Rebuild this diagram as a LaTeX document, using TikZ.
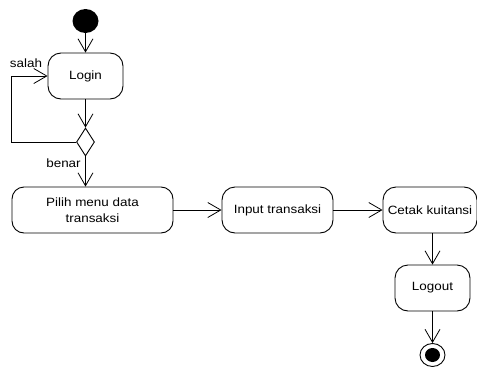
\documentclass[tikz,border=0pt]{standalone}
\usepackage{fontspec}
\setmainfont{Liberation Sans}[FakeStretch=1.12]
\usetikzlibrary{shapes.geometric,arrows.meta}

\tikzset{
  act/.style={draw, rounded corners=13pt, line width=0.9pt, align=center,
    inner sep=0pt, minimum height=46pt},
  flow/.style={draw, line width=0.8pt, -{Straight Barb[length=13pt,width=15pt,line width=0.8pt]}},
}

\begin{document}
\begin{tikzpicture}[x=1pt,y=-1pt,font=\fontsize{12}{15.5}\selectfont]
        \useasboundingbox (0,0) rectangle (477,367);

        \node[ellipse, fill=black, minimum width=26pt, minimum height=24pt, inner sep=0pt] (start) at (85.5,21) {};

        \begin{scope}[every node/.style={act}]
          \node[minimum width=75pt] (login)  at (85.5,76)  {Login};
          \node[minimum width=161pt, rounded corners=12pt] (pilih) at (92.5,210) {Pilih menu data\\transaksi};
          \node[minimum width=111pt] (input)  at (277.5,210) {Input transaksi};
          \node[minimum width=94pt]  (cetak)  at (430,210) {Cetak kuitansi};
          \node[minimum width=75pt]  (logout) at (432.5,288) {Logout};
        \end{scope}

        \node[diamond, draw, line width=0.9pt, minimum width=18pt, minimum height=28pt, inner sep=0pt] (dec) at (85.5,142) {};

        \node[ellipse, draw, line width=0.9pt, minimum width=25pt, minimum height=23pt, inner sep=0pt] (end) at (432.5,355) {};
        \node[ellipse, fill=black, minimum width=15pt, minimum height=14pt, inner sep=0pt] (endin) at (end) {};

        \node[inner sep=0pt] (salah) at (26,63.5) {salah};
        \node[inner sep=0pt] (benar) at (63.5,163.5) {benar};

        \begin{scope}[every edge/.style={flow}]
          \path (start)  edge (login);
          \path (login)  edge (dec);
          \path (dec)    edge (dec |- pilih.north);
          \path (pilih)  edge (input);
          \path (input)  edge (cetak);
          \path (logout |- cetak.south) edge (logout);
          \path (logout) edge (end);
          \path (dec.west) edge[to path={-- ++(-65,0) |- (\tikztotarget)}] (login.west);
        \end{scope}

      \end{tikzpicture}
\end{document}
